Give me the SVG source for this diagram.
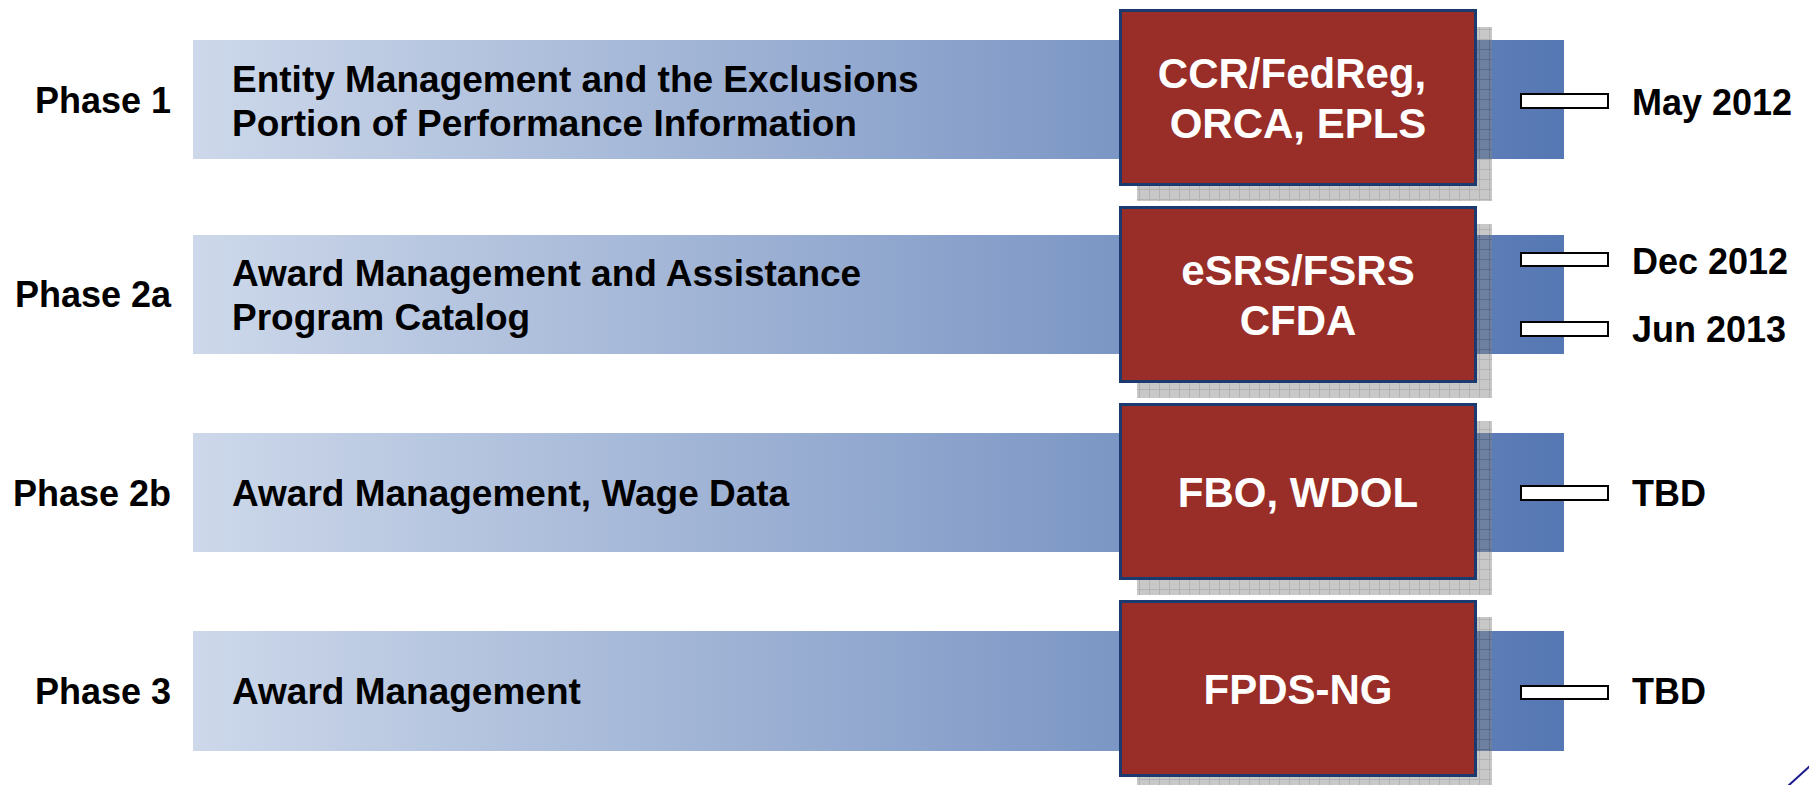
<svg xmlns="http://www.w3.org/2000/svg" width="1809" height="785" viewBox="0 0 1809 785">
<defs>
<linearGradient id="bandGrad" x1="0" y1="0" x2="1" y2="0">
<stop offset="0" stop-color="#cdd8ea"/>
<stop offset="1" stop-color="#5577b3"/>
</linearGradient>
<pattern id="grid" x="0" y="0" width="10" height="10" patternUnits="userSpaceOnUse">
<rect width="10" height="10" fill="#858585"/>
<path d="M0 9.5H10M9.5 0V10" stroke="#555" stroke-width="1"/>
</pattern>
<style>
.band{fill:url(#bandGrad)}
.shadow{fill:url(#grid);opacity:0.45}
.box{fill:#992e28;stroke:#1b3a6f;stroke-width:3}
.tick{fill:#fff;stroke:#000;stroke-width:2}
.t{font-family:"Liberation Sans",Arial,sans-serif;font-weight:bold;font-size:36px;fill:#000}
.bt{font-family:"Liberation Sans",Arial,sans-serif;font-weight:bold;font-size:37px;fill:#000}
.phase{text-anchor:end}
.bx{font-family:"Liberation Sans",Arial,sans-serif;font-weight:bold;font-size:42px;fill:#fff;text-anchor:middle}
</style>
</defs>
<rect width="1809" height="785" fill="#fff"/>

<g id="row1">
<rect class="band" x="193" y="40" width="1371" height="119"/>
<text class="t phase" x="171" y="113">Phase 1</text>
<text class="bt" x="232" y="92">Entity Management and the Exclusions</text>
<text class="bt" x="232" y="136">Portion of Performance Information</text>
<rect class="shadow" x="1137" y="27" width="355" height="174"/>
<rect class="box" x="1120.5" y="10.5" width="355" height="174"/>
<text class="bx" x="1292" y="88">CCR/FedReg,</text>
<text class="bx" x="1298" y="138">ORCA, EPLS</text>
<rect class="tick" x="1521" y="94" width="87" height="14"/>
<text class="t" x="1632" y="115">May 2012</text>
</g>

<g id="row2a">
<rect class="band" x="193" y="235" width="1371" height="119"/>
<text class="t phase" x="171" y="307">Phase 2a</text>
<text class="bt" x="232" y="286">Award Management and Assistance</text>
<text class="bt" x="232" y="330">Program Catalog</text>
<rect class="shadow" x="1137" y="224" width="355" height="174"/>
<rect class="box" x="1120.5" y="207.5" width="355" height="174"/>
<text class="bx" x="1298" y="285">eSRS/FSRS</text>
<text class="bx" x="1298" y="335">CFDA</text>
<rect class="tick" x="1521" y="253" width="87" height="13"/>
<text class="t" x="1632" y="274">Dec 2012</text>
<rect class="tick" x="1521" y="322" width="87" height="14"/>
<text class="t" x="1632" y="342">Jun 2013</text>
</g>

<g id="row2b">
<rect class="band" x="193" y="433" width="1371" height="119"/>
<text class="t phase" x="171" y="506">Phase 2b</text>
<text class="bt" x="232" y="506">Award Management, Wage Data</text>
<rect class="shadow" x="1137" y="421" width="355" height="174"/>
<rect class="box" x="1120.5" y="404.5" width="355" height="174"/>
<text class="bx" x="1298" y="507">FBO, WDOL</text>
<rect class="tick" x="1521" y="486" width="87" height="14"/>
<text class="t" x="1632" y="506">TBD</text>
</g>

<g id="row3">
<rect class="band" x="193" y="631" width="1371" height="120"/>
<text class="t phase" x="171" y="704">Phase 3</text>
<text class="bt" x="232" y="704">Award Management</text>
<rect class="shadow" x="1137" y="617" width="355" height="174"/>
<rect class="box" x="1120.5" y="601.5" width="355" height="174"/>
<text class="bx" x="1298" y="704">FPDS-NG</text>
<rect class="tick" x="1521" y="686" width="87" height="13"/>
<text class="t" x="1632" y="704">TBD</text>
</g>

<g id="connectors">
<line x1="1788" y1="786" x2="1810" y2="766" stroke="#1a1a8c" stroke-width="2"/>
</g>
</svg>
